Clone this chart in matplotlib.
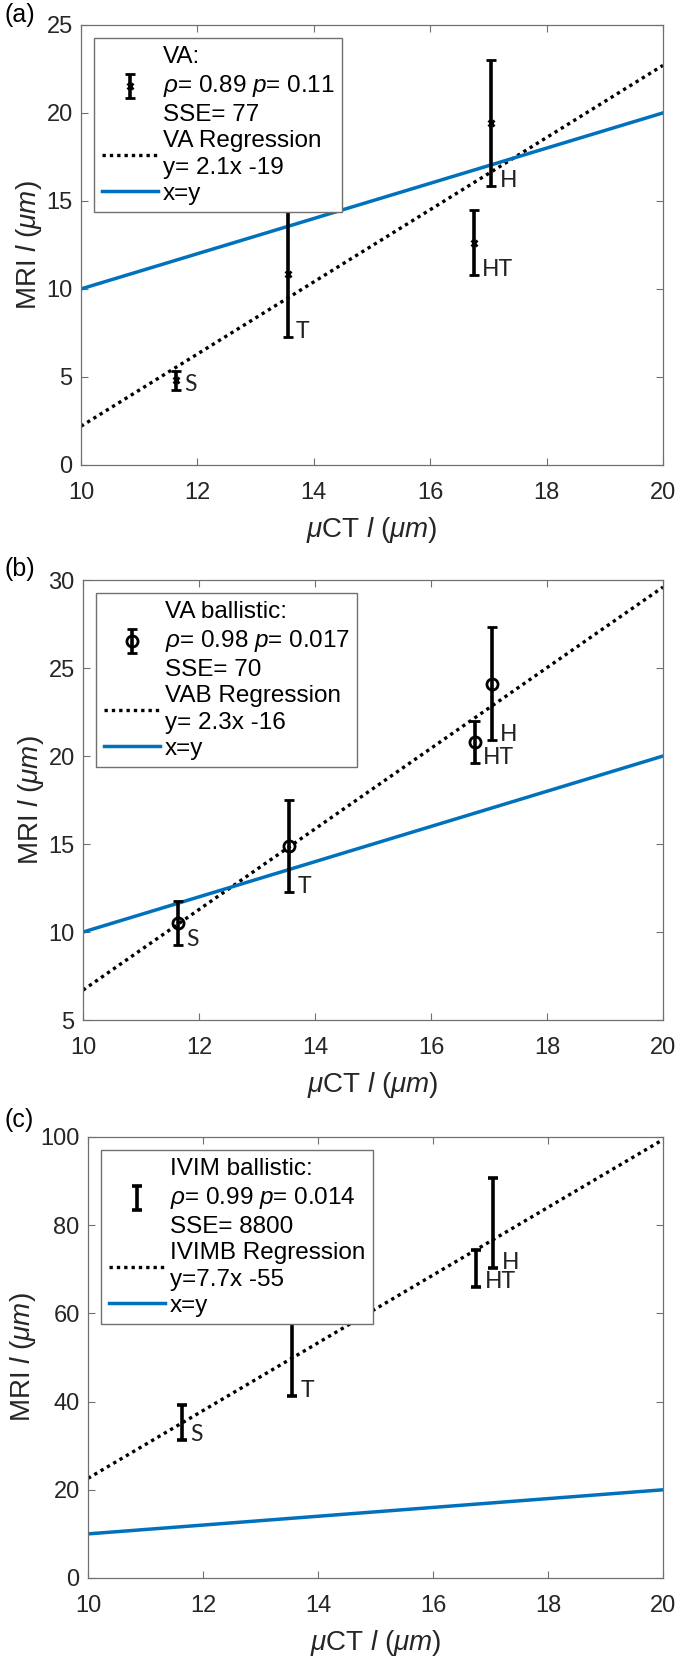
#!/usr/bin/env python3

import matplotlib
matplotlib.use("Agg")
import matplotlib.pyplot as plt
import numpy as np

plt.rcParams['font.family'] = ['Liberation Sans', 'DejaVu Sans']
plt.rcParams['mathtext.fontset'] = 'custom'
plt.rcParams['mathtext.rm'] = 'Liberation Sans'
plt.rcParams['mathtext.it'] = 'Liberation Sans:italic'

# sample names and micro-CT lengths (shared by all panels)
names = ['S', 'T', 'HT', 'H']
uct = [11.63, 13.55, 16.75, 17.05]

# (a) VA
va_mean = [4.8, 10.85, 12.62, 19.43]
va_err = [0.55, 3.6, 1.85, 3.6]
va_fit = (2.05, -18.3)
va_labels = ['VA:\n$\\rho$= 0.89 $p$= 0.11\nSSE= 77', 'VA Regression\ny= 2.1x -19', 'x=y']

# (b) VA ballistic
vab_mean = [10.51, 14.9, 20.8, 24.12]
vab_err = [1.27, 2.6, 1.2, 3.2]
vab_fit = (2.29, -16.2)
vab_labels = ['VA ballistic:\n$\\rho$= 0.98 $p$= 0.017\nSSE= 70', 'VAB Regression\ny= 2.3x -16', 'x=y']

# (c) IVIM ballistic
ivim_mean = [35.2, 50.5, 70.1, 80.5]
ivim_err = [4.0, 9.2, 4.2, 10.3]
ivim_fit = (7.68, -54.2)
ivim_labels = ['IVIM ballistic:\n$\\rho$= 0.99 $p$= 0.014\nSSE= 8800', 'IVIMB Regression\ny=7.7x -55', 'x=y']

xline = [10, 20]
BLUE = '#0072BD'
AXC = '#262626'


def draw_panel(ax, mean, err, fit, labels, marker, ylim, yticks):
    xs = np.array(xline, dtype=float)
    bar_kw = dict(elinewidth=2.6, capsize=3.5, capthick=2.6, zorder=3)
    if marker == 'o':
        eb = ax.errorbar(uct, mean, yerr=err, fmt='o', color='black', mfc='none',
                         ms=8, mew=2, **bar_kw)
    elif marker == 'x':
        eb = ax.errorbar(uct, mean, yerr=err, fmt='x', color='black',
                         ms=4, mew=2, **bar_kw)
    else:
        eb = ax.errorbar(uct, mean, yerr=err, fmt='none', ecolor='black', **bar_kw)
    reg, = ax.plot(xs, fit[0] * xs + fit[1], color='black', linestyle=(0, (1, 1.2)),
                   linewidth=2.4, zorder=2)
    ident, = ax.plot(xs, xs, color=BLUE, linewidth=2.5, zorder=2)

    # sample labels next to the lower end of each bar
    for x, m, e, n in zip(uct, mean, err, names):
        ax.annotate(n, xy=(x, m - e), xytext=(6, 4), textcoords='offset points',
                    ha='left', va='center', fontsize=16.5, color='#222222',
                    family=['Lato', 'DejaVu Sans'])

    ax.set_xlim(10, 20)
    ax.set_ylim(*ylim)
    ax.set_xticks(range(10, 21, 2))
    ax.set_yticks(yticks)
    ax.tick_params(direction='in', top=True, right=True, length=5, width=0.8,
                   colors='#707070', labelcolor=AXC, labelsize=17)
    ax.tick_params(axis='x', pad=12)
    ax.tick_params(axis='y', pad=6)
    for s in ax.spines.values():
        s.set_color('#707070')
        s.set_linewidth(0.9)
    ax.set_xlabel('$\\mu$CT $l$ $(\\mu m)$', fontsize=20, color=AXC, labelpad=8)
    ax.set_ylabel('MRI $l$ $(\\mu m)$', fontsize=20, color=AXC, labelpad=2)

    leg = ax.legend([eb, reg, ident], labels, loc='upper left', fontsize=17.5,
                    frameon=True, fancybox=False, framealpha=1, edgecolor='#707070',
                    borderaxespad=0.55, borderpad=0.3, handlelength=2.3,
                    handletextpad=0.22, labelspacing=0.15)
    for t in leg.get_texts():
        t.set_linespacing(1.3)
    leg.get_frame().set_linewidth(1.0)
    leg.set_zorder(5)


fig = plt.figure(figsize=(6.85, 16.6), dpi=100)
ax_a = fig.add_axes([0.1182, 0.7199, 0.8496, 0.2651])
ax_b = fig.add_axes([0.1212, 0.3855, 0.8467, 0.2651])
ax_c = fig.add_axes([0.1285, 0.0494, 0.8394, 0.2657])

draw_panel(ax_a, va_mean, va_err, va_fit, va_labels, 'x', (0, 25), range(0, 26, 5))
draw_panel(ax_b, vab_mean, vab_err, vab_fit, vab_labels, 'o', (5, 30), range(5, 31, 5))
draw_panel(ax_c, ivim_mean, ivim_err, ivim_fit, ivim_labels, None, (0, 100), range(0, 101, 20))

for lab, ypix in [('(a)', 15), ('(b)', 569), ('(c)', 1120)]:
    fig.text(5 / 685, 1 - ypix / 1660, lab, ha='left', va='center', fontsize=18, color='black')

fig.savefig('out.png', dpi=100)
